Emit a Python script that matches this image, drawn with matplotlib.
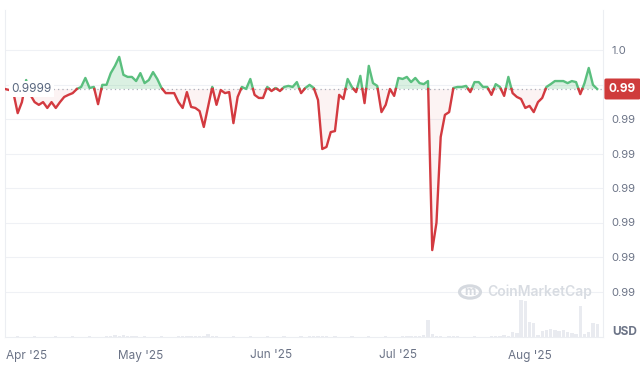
import numpy as np
import pandas as pd
import matplotlib
matplotlib.use("Agg")
import matplotlib.pyplot as plt
import matplotlib.dates as mdates
from matplotlib.patches import Circle
from matplotlib.transforms import ScaledTranslation

plt.rcParams['font.family'] = ['Inter', 'DejaVu Sans']

start_date = "2025-03-30"
prices = [
    0.999887, 0.999884, 0.999875, 0.999817, 0.999849, 0.999913, 0.999870, 0.999849, 0.999841, 0.999849,
    0.999832, 0.999849, 0.999832, 0.999849, 0.999864, 0.999870, 0.999875, 0.999887, 0.999893, 0.999919,
    0.999890, 0.999893, 0.999843, 0.999899, 0.999899, 0.999933, 0.999954, 0.999980, 0.999928, 0.999922,
    0.999922, 0.999910, 0.999933, 0.999904, 0.999913, 0.999936, 0.999916, 0.999890, 0.999875, 0.999875,
    0.999875, 0.999849, 0.999832, 0.999878, 0.999835, 0.999832, 0.999823, 0.999777, 0.999835, 0.999893,
    0.999841, 0.999884, 0.999875, 0.999878, 0.999788, 0.999864, 0.999893, 0.999887, 0.999916, 0.999870,
    0.999861, 0.999861, 0.999893, 0.999881, 0.999890, 0.999881, 0.999893, 0.999896, 0.999893, 0.999907,
    0.999875, 0.999890, 0.999899, 0.999890, 0.999855, 0.999713, 0.999719, 0.999762, 0.999765, 0.999870,
    0.999858, 0.999916, 0.999893, 0.999878, 0.999925, 0.999846, 0.999954, 0.999904, 0.999896, 0.999820,
    0.999841, 0.999887, 0.999867, 0.999919, 0.999916, 0.999922, 0.999907, 0.999919, 0.999904, 0.999901,
    0.999910, 0.999420, 0.999499, 0.999748, 0.999812, 0.999820, 0.999890, 0.999893, 0.999893, 0.999896,
    0.999878, 0.999907, 0.999907, 0.999893, 0.999893, 0.999870, 0.999901, 0.999893, 0.999867, 0.999922,
    0.999875, 0.999864, 0.999858, 0.999832, 0.999838, 0.999820, 0.999849, 0.999861, 0.999893, 0.999901,
    0.999910, 0.999910, 0.999910, 0.999904, 0.999910, 0.999907, 0.999872, 0.999904, 0.999948, 0.999899,
    0.999887,
]
volumes = [
    0.4, 0.5, 0.4, 0.6, 0.5, 0.4, 0.5, 0.6, 0.5, 0.4,
    0.5, 0.4, 0.6, 0.5, 0.4, 0.5, 0.6, 0.5, 0.4, 0.5,
    0.6, 0.5, 0.4, 0.5, 0.8, 1.5, 2.0, 1.2, 1.8, 1.0,
    0.8, 0.6, 0.5, 0.6, 0.5, 0.4, 0.5, 0.6, 0.5, 0.4,
    0.5, 0.6, 0.8, 1.0, 0.8, 1.2, 0.9, 1.5, 3.0, 1.0,
    0.6, 0.5, 0.4, 0.5, 0.6, 0.5, 0.4, 0.5, 0.6, 0.5,
    0.4, 0.5, 0.6, 0.5, 0.4, 0.5, 0.6, 0.5, 0.4, 0.5,
    0.6, 0.5, 0.8, 1.0, 1.2, 0.8, 0.6, 0.5, 0.6, 0.5,
    0.4, 0.5, 0.6, 0.5, 0.4, 0.5, 0.6, 0.5, 0.4, 0.5,
    0.6, 0.5, 0.4, 0.5, 0.6, 0.8, 1.0, 1.2, 1.5, 2.5,
    17, 3, 0.8, 0.6, 0.5, 0.8, 1.0, 0.6, 0.5, 0.4,
    0.5, 0.6, 0.5, 0.4, 0.5, 0.6, 0.8, 1.0, 2.0, 1.5,
    5.0, 4.0, 37, 36, 15, 14, 2, 6, 7, 8,
    7, 6, 7, 5, 4, 3, 31, 3, 5, 14,
    13,
]
ytick_values = [1.0000, 0.9999, 0.9998, 0.9997, 0.9996, 0.9995, 0.9994, 0.9993]
# the 0.9999 label sits under the red last-price badge in the reference
ytick_labels = ["1.0", "", "0.99", "0.99", "0.99", "0.99", "0.99", "0.99"]
xtick_dates = ["2025-04-01", "2025-05-01", "2025-06-01", "2025-07-01", "2025-08-01"]
xtick_labels = ["Apr '25", "May '25", "Jun '25", "Jul '25", "Aug '25"]
base_label = "0.9999"
last_label = "0.99"

GREEN = "#5abf7e"
RED = "#d33a40"
GRID = "#eff1f5"
TXT = "#6b7386"

dates = pd.date_range(start_date, periods=len(prices), freq="D")
x = mdates.date2num(dates.to_pydatetime())
v = np.array(prices)
base = v[0]

# insert crossing points so that colour switches exactly at the base line
xs, vs = [x[0]], [v[0]]
for i in range(1, len(v)):
    a, b = v[i - 1] - base, v[i] - base
    if a * b < 0:
        t = a / (a - b)
        xs.append(x[i - 1] + t * (x[i] - x[i - 1]))
        vs.append(base)
    xs.append(x[i]); vs.append(v[i])
xs = np.array(xs); vs = np.array(vs)
up = np.where(vs >= base, vs, np.nan)
dn = np.where(vs <= base, vs, np.nan)

fig = plt.figure(figsize=(6.4, 3.76), dpi=100)
ax = fig.add_axes([5 / 640, (376 - 337) / 376, 598 / 640, 327 / 376])
ax2 = ax.twinx()

# volume
ax2.bar(x, volumes, width=0.8, color="#e9ebf0", zorder=1)
ax2.set_ylim(0, 327)
ax2.axis("off")
ax.set_zorder(ax2.get_zorder() + 1)
ax.patch.set_visible(False)

ax.fill_between(xs, vs, base, where=vs >= base, interpolate=True, color=GREEN, alpha=0.22, lw=0)
ax.fill_between(xs, vs, base, where=vs <= base, interpolate=True, color=RED, alpha=0.06, lw=0)
ax.plot(xs, up, color=GREEN, lw=1.7, solid_joinstyle="round", zorder=3)
ax.plot(xs, dn, color=RED, lw=1.7, solid_joinstyle="round", zorder=3)
ax.axhline(base, color="#a9aeb8", lw=0.9, ls=(0, (1, 2.5)), zorder=2)

ymin = 1.0 - 287 / 345000
ymax = 1.0 + 40 / 345000
ax.set_ylim(ymin, ymax)
ax.set_xlim(x[0], x[0] + 598 / 4.23)

for yv in ytick_values:
    ax.axhline(yv, color=GRID, lw=0.8, zorder=0)

ax.yaxis.tick_right()
ax.set_yticks(ytick_values)
ax.set_yticklabels(ytick_labels)
ax.tick_params(axis="y", length=0, pad=6, labelsize=8, labelcolor=TXT)

xt = mdates.date2num(pd.to_datetime(xtick_dates).to_pydatetime())
ax.set_xticks(xt)
ax.set_xticklabels(xtick_labels)
ax.tick_params(axis="x", length=0, pad=9, labelsize=8.5, labelcolor=TXT)
lbls = ax.get_xticklabels()
lbls[0].set_horizontalalignment("left")
lbls[0].set_transform(lbls[0].get_transform() + ScaledTranslation(-0.075, 0, fig.dpi_scale_trans))

ax.spines["top"].set_visible(False)
for s in ["left", "right", "bottom"]:
    ax.spines[s].set_color("#eceef2")
    ax.spines[s].set_linewidth(0.8)

# base label on left
ax.text(x[0] + 1.45, base, base_label, fontsize=8.5, color="#58667e", va="center", ha="left",
        bbox=dict(boxstyle="square,pad=0.2", fc="white", ec="none"), zorder=5)

# last price badge
ax.annotate(last_label, xy=(1.0, v[-1]), xycoords=("axes fraction", "data"),
            xytext=(14, 0), textcoords="offset points", ha="center", va="center",
            fontsize=8.5, fontweight="bold", color="white", annotation_clip=False,
            bbox=dict(boxstyle="round,pad=0.38,rounding_size=0.15", fc="#cf3b3b", ec="none"), zorder=6)

# USD label
fig.text(612 / 640, 1 - 332 / 376, "USD", fontsize=8.5, fontweight="bold", color="#6b7386",
         ha="left", va="center")

# watermark
logo = Circle((470 / 640, 1 - 292 / 376), 10.5 / 640, transform=fig.transFigure,
              fill=False, ec="#d5d9df", lw=2.2)
fig.patches.append(logo)
fig.text(470 / 640, 1 - 292 / 376, "m", fontsize=9, fontweight="bold", color="#d5d9df",
         ha="center", va="center")
fig.text(487 / 640, 1 - 292 / 376, "CoinMarketCap", fontsize=10, fontweight="semibold",
         color="#d8dce2", ha="left", va="center")

fig.savefig("out.png", dpi=100)
